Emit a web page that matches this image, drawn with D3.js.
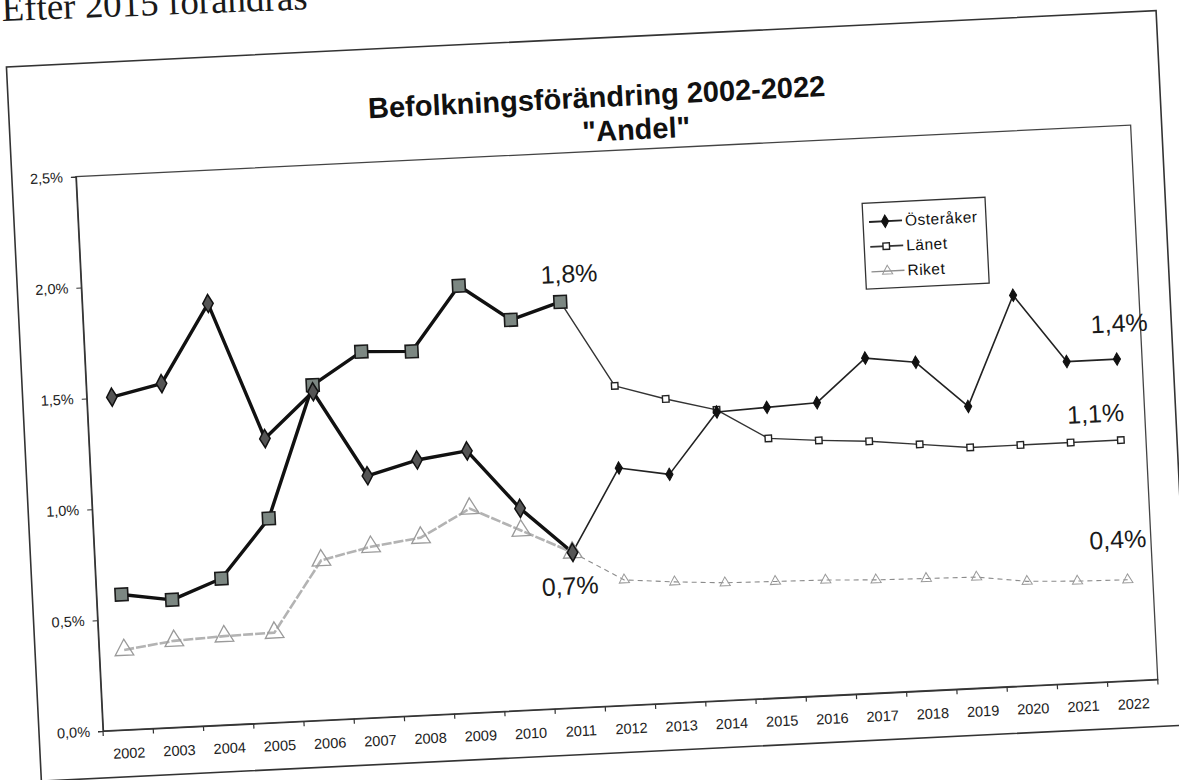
<!DOCTYPE html>
<html><head><meta charset="utf-8">
<script src="https://cdn.jsdelivr.net/npm/d3@7"></script>
<style>
body{margin:0;background:#fff;}
svg{display:block;}
text{font-family:"Liberation Sans",Arial,sans-serif;}
</style></head>
<body><svg id="c" width="1179" height="780"></svg>
<script>
// ---- data ----
const years = ["2002","2003","2004","2005","2006","2007","2008","2009","2010","2011","2012","2013","2014","2015","2016","2017","2018","2019","2020","2021","2022"];
const osteraker = [1.50,1.55,1.90,1.28,1.48,1.09,1.15,1.18,0.91,0.70,1.07,1.03,1.30,1.31,1.32,1.51,1.48,1.27,1.76,1.45,1.45];
const lanet     = [0.61,0.575,0.66,0.92,1.51,1.65,1.64,1.925,1.76,1.83,1.44,1.37,1.31,1.17,1.15,1.135,1.11,1.085,1.085,1.085,1.085];
const riket     = [0.36,0.39,0.40,0.405,0.72,0.77,0.80,0.92,0.81,0.70,0.565,0.545,0.53,0.525,0.52,0.51,0.505,0.50,0.47,0.46,0.455];
const seriesNames = ["Österåker","Länet","Riket"];
const yTicks = [0,0.5,1.0,1.5,2.0,2.5];
const titleLines = ["Befolkningsförändring 2002-2022","\"Andel\""];
const annotationTexts = ["1,8%","0,7%","1,4%","1,1%","0,4%"];
const pageText = "Efter 2015 förändras";
const splitIndex = 9; // 2011: heavy styling up to here

const svg = d3.select("#c");
svg.append("rect").attr("width",1179).attr("height",780).attr("fill","#fff");

// scanned page text at the top
svg.append("text").attr("transform","translate(2,21) rotate(-2.2)")
  .style("font-family","'Liberation Serif','Times New Roman',serif")
  .attr("font-size",37).attr("fill","#1a1a1a").text(pageText);

const W = 1056, H = 555;
const root = svg.append("g").attr("transform","translate(103,731) rotate(-2.8)");

// outer chart frame
root.append("rect").attr("x",-64).attr("y",-668).attr("width",1151).attr("height",715)
  .attr("fill","none").attr("stroke","#333").attr("stroke-width",1.6);

const x = d3.scaleBand().domain(years).range([0,W]);
const y = d3.scaleLinear().domain([0,2.5]).range([0,-H]);
const cx = d => x(d) + x.bandwidth()/2;

// plot area border
root.append("rect").attr("x",0).attr("y",-H).attr("width",W).attr("height",H)
  .attr("fill","none").attr("stroke","#444").attr("stroke-width",1.3);

// y axis
const yAxis = root.append("g").call(d3.axisLeft(y).tickValues(yTicks).tickSize(5).tickPadding(8)
  .tickFormat(d => d3.format(".1f")(d).replace(".",",") + "%"));
yAxis.select(".domain").attr("stroke","#333").attr("stroke-width",1.3);
yAxis.selectAll(".tick line").attr("stroke","#333");
yAxis.selectAll("text").attr("font-size",14.5).attr("fill","#222").style("font-family","'Liberation Sans',Arial,sans-serif");

// x axis (labels centred on categories, ticks between categories)
const xAxis = root.append("g").call(d3.axisBottom(x).tickSize(0).tickPadding(18));
xAxis.select(".domain").attr("stroke","#333").attr("stroke-width",1.3);
xAxis.selectAll("text").attr("font-size",14.5).attr("fill","#222").style("font-family","'Liberation Sans',Arial,sans-serif");
const bounds = years.map(d => x(d)).concat([x(years[years.length-1]) + x.bandwidth()]);
root.append("g").selectAll("line").data(bounds).join("line")
  .attr("x1",d=>d).attr("x2",d=>d).attr("y1",0).attr("y2",5)
  .attr("stroke","#333").attr("stroke-width",1.2);

// series drawing
const series = [
  {name:seriesNames[2], vals:riket, sym:d3.symbolTriangle,
   heavy:{stroke:"#b3b3b3",sw:2.6,dash:"10,2",size:150,fill:"none",mstroke:"#9a9a9a",msw:1.3},
   light:{stroke:"#8c8c8c",sw:1.1,dash:"5,4",size:45,fill:"none",mstroke:"#999",msw:1}},
  {name:seriesNames[1], vals:lanet, sym:d3.symbolSquare,
   heavy:{stroke:"#111",sw:3.4,dash:null,size:160,fill:"#7c8782",mstroke:"#1a1a1a",msw:1.6},
   light:{stroke:"#333",sw:1.4,dash:null,size:42,fill:"#fff",mstroke:"#222",msw:1.4}},
  {name:seriesNames[0], vals:osteraker, sym:d3.symbolDiamond,
   heavy:{stroke:"#111",sw:3.4,dash:null,size:95,fill:"#555",mstroke:"#111",msw:1.5},
   light:{stroke:"#222",sw:1.6,dash:null,size:45,fill:"#111",mstroke:"#111",msw:1}}
];
const line = d3.line().x(d=>cx(d.year)).y(d=>y(d.v));

function drawPart(s, pts, st){
  root.append("path").datum(pts).attr("d",line).attr("fill","none")
    .attr("stroke",st.stroke).attr("stroke-width",st.sw).attr("stroke-linejoin","round")
    .attr("stroke-dasharray",st.dash);
}
function drawMarks(s, pts, st){
  root.append("g").selectAll("path").data(pts).join("path")
    .attr("transform",d=>`translate(${cx(d.year)},${y(d.v)})`)
    .attr("d",d3.symbol().type(s.sym).size(st.size))
    .attr("fill",st.fill).attr("stroke",st.mstroke).attr("stroke-width",st.msw);
}
series.forEach(s=>{
  const pts = s.vals.map((v,i)=>({year:years[i], v}));
  drawPart(s, pts.slice(splitIndex), s.light);
  drawPart(s, pts.slice(0, splitIndex+1), s.heavy);
});
series.forEach(s=>{
  const pts = s.vals.map((v,i)=>({year:years[i], v}));
  drawMarks(s, pts.slice(splitIndex+1), s.light);
  drawMarks(s, pts.slice(0, splitIndex+1), s.heavy);
});

// legend
const lg = root.append("g").attr("transform","translate(784,-490)");
lg.append("rect").attr("width",123).attr("height",86).attr("fill","#fff").attr("stroke","#333").attr("stroke-width",1.3);
[series[2],series[1],series[0]].forEach((s,i)=>{
  const yy = 19 + i*25;
  const st = s.light;
  lg.append("line").attr("x1",6).attr("x2",39).attr("y1",yy).attr("y2",yy)
    .attr("stroke",st.stroke).attr("stroke-width",st.sw+0.3);
  lg.append("path").attr("transform",`translate(22,${yy})`)
    .attr("d",d3.symbol().type(s.sym).size(st.size)).attr("fill",st.fill).attr("stroke",st.mstroke).attr("stroke-width",st.msw);
  lg.append("text").attr("x",42).attr("y",yy).attr("dy","0.35em").attr("font-size",15.5)
    .attr("letter-spacing",0.5).attr("fill","#111").text(s.name);
});

// title
root.append("text").attr("x",524).attr("y",-599).attr("text-anchor","middle")
  .attr("font-size",29).attr("font-weight","bold").attr("fill","#111").text(titleLines[0]);
root.append("text").attr("x",562).attr("y",-565).attr("text-anchor","middle")
  .attr("font-size",29).attr("font-weight","bold").attr("fill","#111").text(titleLines[1]);

// annotations anchored to data points
const ann = [
  {t:annotationTexts[0], year:"2011", v:lanet[9],      dx:10,  dy:-19},
  {t:annotationTexts[1], year:"2011", v:riket[9],      dx:-4,  dy:42},
  {t:annotationTexts[2], year:"2022", v:osteraker[20], dx:4,   dy:-27},
  {t:annotationTexts[3], year:"2022", v:lanet[20],     dx:-24, dy:-19},
  {t:annotationTexts[4], year:"2022", v:riket[20],     dx:-8,  dy:-32}
];
root.append("g").selectAll("text").data(ann).join("text")
  .attr("x",d=>cx(d.year)+d.dx).attr("y",d=>y(d.v)+d.dy).attr("text-anchor","middle")
  .attr("font-size",25).attr("fill","#1a1a1a").text(d=>d.t);
</script>
</body></html>
